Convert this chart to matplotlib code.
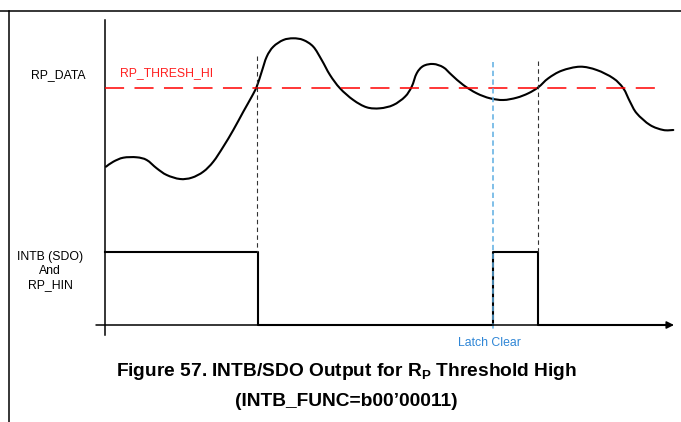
import matplotlib
matplotlib.use('Agg')
import matplotlib.pyplot as plt
from matplotlib.path import Path
from matplotlib.patches import PathPatch

plt.rcParams['font.family'] = ['Liberation Sans', 'DejaVu Sans']
plt.rcParams['mathtext.fontset'] = 'custom'
plt.rcParams['mathtext.rm'] = 'Liberation Sans'
plt.rcParams['mathtext.bf'] = 'Liberation Sans:bold'

# RP_DATA waveform (x = time, y = level, in picture units)
curve_t = [106, 113.3, 123.3, 136.7, 146.7, 156.7, 166.7, 180, 191.7, 203.3,
           213.3, 223.3, 233.3, 243.3, 251.7, 256.7, 261.7, 266.7, 273.3, 283.3,
           293.3, 303.3, 313.3, 321.7, 330, 340, 353.3, 366.7, 380, 393.3,
           405, 411.7, 416.7, 423.3, 433.3, 443.3, 451.7, 463.3, 476.7, 490,
           503.3, 516.7, 528.3, 538.3, 548.3, 561.7, 580, 596.7, 613.3, 623.3,
           630, 636.7, 650, 663.3, 673.3]
curve_v = [166.7, 161.7, 157.7, 157.3, 160, 168.3, 175, 179, 177.7, 171.7,
           161.7, 146.7, 130, 111.7, 96.7, 86.7, 71.7, 56.7, 46.7, 40,
           38.3, 40, 46.7, 60, 75, 88.3, 100, 107.3, 108.3, 105,
           96.7, 86.7, 73.3, 66, 64, 67.3, 75, 85, 93.3, 98.3,
           100, 97.7, 93.3, 87.3, 78.3, 70.7, 66.7, 70, 78.3, 88.3,
           101.7, 113.3, 125, 130, 130]
thresh_hi = 88

# INTB output edges and states (1 = high, 0 = low)
edge_t = [105, 258, 493, 538, 665]
intb_state = [1, 0, 1, 0, 0]
high_y, low_y = 252, 325

cross_t = [257, 538]     # threshold crossings (black dashed markers)
cross_top = [56, 61]
latch_clear_t = 493      # latch clear (blue dashed marker)


def smooth_path(xs, ys):
    # cubic bezier segments through the read points (Catmull-Rom tangents)
    pts = list(zip(xs, ys))
    verts = [pts[0]]
    codes = [Path.MOVETO]
    n = len(pts)
    for i in range(n - 1):
        p0 = pts[max(i - 1, 0)]
        p1 = pts[i]
        p2 = pts[i + 1]
        p3 = pts[min(i + 2, n - 1)]
        c1 = (p1[0] + (p2[0] - p0[0]) / 6, p1[1] + (p2[1] - p0[1]) / 6)
        c2 = (p2[0] - (p3[0] - p1[0]) / 6, p2[1] - (p3[1] - p1[1]) / 6)
        verts += [c1, c2, p2]
        codes += [Path.CURVE4] * 3
    return Path(verts, codes)


fig = plt.figure(figsize=(6.81, 4.22), dpi=100)
ax = fig.add_axes([0, 0, 1, 1])
ax.set_xlim(0, 681)
ax.set_ylim(422, 0)
ax.axis('off')

# page frame lines
ax.plot([0, 681], [11, 11], color='black', lw=1.1)
ax.plot([9, 9], [11, 422], color='black', lw=1.1)

# axes of the timing diagram
ax.plot([105, 105], [20, 335], color='black', lw=1.1)
ax.annotate('', xy=(674, low_y), xytext=(96, low_y),
            arrowprops=dict(arrowstyle='-|>', lw=1.1, color='black',
                            mutation_scale=11, shrinkA=0, shrinkB=0))

# threshold line
ax.plot([105, 664], [thresh_hi, thresh_hi], color='#ff0000', lw=1.1,
        linestyle=(0, (12.5, 6.8)))
ax.text(120, 73, 'RP_THRESH_HI', color='#ff2020', fontsize=8.8,
        ha='left', va='center')

# waveform
ax.add_patch(PathPatch(smooth_path(curve_t, curve_v), facecolor='none',
                       edgecolor='black', lw=1.5, capstyle='round',
                       joinstyle='round'))

# INTB pulses
levels = [high_y if s else low_y for s in intb_state]
ax.step(edge_t, levels, where='post', color='black', lw=1.5)

# markers
for t, top in zip(cross_t, cross_top):
    ax.plot([t, t], [top, high_y], color='#333333', lw=0.8,
            linestyle=(0, (4, 3)))
ax.plot([latch_clear_t, latch_clear_t], [62, 330], color='#5dade2', lw=1.1,
        linestyle=(0, (3.5, 2.2)))
ax.text(latch_clear_t - 4, 343, 'Latch Clear', color='#2f86d6', fontsize=8.8,
        ha='center', va='center')

# signal labels
ax.text(58, 75, 'RP_DATA', fontsize=8.8, ha='center', va='center')
ax.text(50, 271, 'INTB (SDO)\nAnd\nRP_HIN', fontsize=8.8, ha='center',
        va='center', linespacing=1.2)

# caption
ax.text(346, 371, r'Figure 57. INTB/SDO Output for R$_\mathbf{P}$ Threshold High',
        fontsize=13.8, fontweight='bold', ha='center', va='center')
ax.text(346, 402, '(INTB_FUNC=b00\u201900011)', fontsize=13.8,
        fontweight='bold', ha='center', va='center')

fig.savefig('out.png', dpi=100)
